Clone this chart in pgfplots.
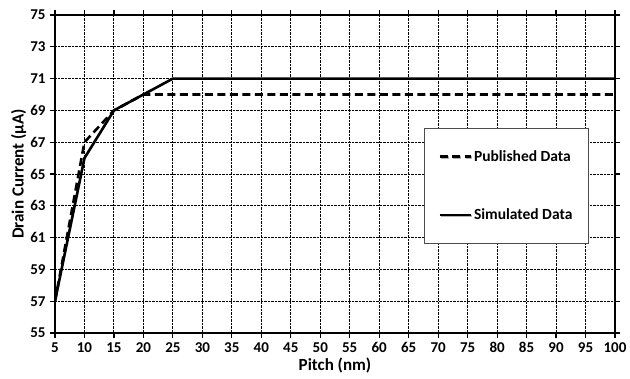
\documentclass[border=0pt]{standalone}
\usepackage{pgfplots}
\pgfplotsset{compat=1.18}
\usetikzlibrary{shadows}
\usepackage{fontspec}
\setmainfont{Carlito}
\setsansfont{Carlito}

\begin{document}
\begin{tikzpicture}
\begin{axis}[
  name=ax,
  scale only axis,
  width=560pt, height=318pt,
  xmin=5, xmax=100, ymin=55, ymax=75,
  xtick={5,10,...,100},
  ytick={55,57,...,75},
  tick align=outside,
  major tick length=5pt,
  tick style={black, line width=1.2pt},
  axis line style={black, line width=1.8pt},
  grid=major,
  major grid style={black, densely dotted, line width=1pt},
  /pgf/number format/assume math mode=true,
  ticklabel style={font=\bfseries\fontsize{15}{17}\selectfont},
  xticklabel style={yshift=-1pt},
  yticklabel style={xshift=-1pt},
  xlabel={Pitch (nm)},
  ylabel={Drain Current (µA)},
  label style={font=\bfseries\fontsize{17}{19}\selectfont},
  xlabel style={yshift=2pt},
  ylabel style={yshift=-3pt},
  legend cell align=left,
  legend style={
    at={(rel axis cs:0.659,0.645)}, anchor=north west,
    draw=black!70, line width=0.8pt, fill=white,
    inner xsep=14pt, inner ysep=20pt,
    row sep=42pt,
    font=\bfseries\fontsize{15.5}{17}\selectfont,
    drop shadow={shadow xshift=1pt, shadow yshift=-1pt, opacity=0.3},
  },
  legend image code/.code={\draw[#1] (0pt,0pt) -- (31pt,0pt);},
]
\addplot[black, line width=2.6pt, dash pattern=on 8pt off 4.5pt] coordinates {
  (5,57) (10,67) (15,69) (20,70) (25,70) (30,70) (35,70) (40,70) (45,70)
  (50,70) (55,70) (60,70) (65,70) (70,70) (75,70) (80,70) (85,70) (90,70)
  (95,70) (100,70)
};
\addlegendentry{Published Data}
\addplot[black, line width=2.6pt] coordinates {
  (5,57) (10,66) (15,69) (20,70) (25,71) (30,71) (35,71) (40,71) (45,71)
  (50,71) (55,71) (60,71) (65,71) (70,71) (75,71) (80,71) (85,71) (90,71)
  (95,71) (100,71)
};
\addlegendentry{Simulated Data}
\end{axis}
\path (ax.south west) ++(-55pt,-45pt) coordinate (bl);
\path (ax.north east) ++(15pt,15pt) coordinate (tr);
\path (bl) rectangle (tr);
\end{tikzpicture}
\end{document}
